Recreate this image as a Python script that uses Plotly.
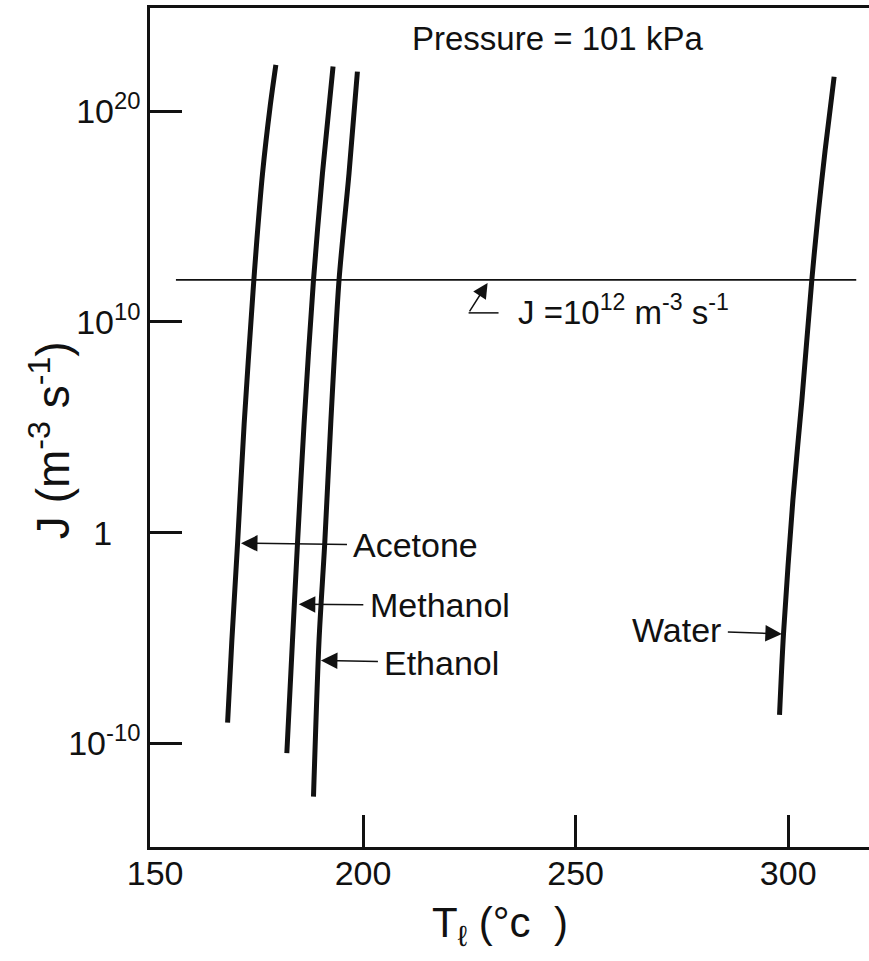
import plotly.graph_objects as go

# ---- data ----
acetone_T = [168.15, 169.16, 170.50, 172.05, 174.16, 175.03, 176.37, 178.15, 179.50]
acetone_logJ = [-9.02, -5.09, -0.50, 5.19, 11.52, 13.89, 17.06, 20.22, 22.20]

methanol_T = [182.08, 183.42, 184.59, 186.14, 188.35, 190.46, 192.95]
methanol_logJ = [-10.47, -5.09, -0.50, 5.19, 11.99, 17.06, 22.12]

ethanol_T = [188.35, 189.66, 191.00, 192.41, 194.36, 196.71, 198.68]
ethanol_logJ = [-12.53, -5.09, -0.50, 5.19, 11.99, 17.06, 21.88]

water_T = [297.96, 298.90, 301.10, 303.22, 305.57, 306.98, 308.69, 310.80]
water_logJ = [-8.65, -4.77, 1.55, 6.30, 12.04, 15.00, 18.16, 21.64]

ref_T = [156.0, 316.0]
ref_J = [1e12, 1e12]

x_tickvals = [150, 200, 250, 300]
x_ticktext = ["\u00a0150", "200", "250", "300"]
y_tickvals = [1e-10, 1, 1e10, 1e20]
y_ticktext = ["10<sup>-10</sup>", "1\u00a0\u00a0\u00a0", "10<sup>10</sup>", "10<sup>20</sup>"]

label_names = ["Acetone", "Methanol", "Ethanol", "Water"]
label_tip_T = [171.3, 184.9, 190.1, 298.5]
label_tip_logJ = [-0.50, -3.40, -6.07, -4.81]
label_ax = [175, 141, 121, -105]
label_ay = [2, 1, 2, -4]

FONT = "Liberation Sans, Arial, sans-serif"
BLACK = "#111111"

fig = go.Figure()
for T, lj in [(acetone_T, acetone_logJ), (methanol_T, methanol_logJ),
              (ethanol_T, ethanol_logJ), (water_T, water_logJ)]:
    fig.add_trace(go.Scatter(
        x=T, y=[10 ** v for v in lj], mode="lines",
        line=dict(color=BLACK, width=5, shape="spline", smoothing=0.8),
        hoverinfo="skip"))

fig.add_trace(go.Scatter(x=ref_T, y=ref_J, mode="lines",
                         line=dict(color=BLACK, width=1.8), hoverinfo="skip"))

annotations = []
for name, tx, ty, ax, ay in zip(label_names, label_tip_T, label_tip_logJ, label_ax, label_ay):
    annotations.append(dict(
        x=tx, y=ty, xref="x", yref="y", text=name, showarrow=True,
        ax=ax, ay=ay, arrowhead=2, arrowsize=2.2, arrowwidth=1.5,
        arrowcolor=BLACK, borderpad=6,
        font=dict(family=FONT, size=34, color=BLACK)))

# J = 10^12 label with L-shaped pointer
annotations.append(dict(
    x=235.9, y=10.55, xref="x", yref="y", xanchor="left", yanchor="middle",
    text="J =10<sup>12</sup> m<sup>-3</sup> s<sup>-1</sup>", showarrow=False,
    font=dict(family=FONT, size=33, color=BLACK)))
annotations.append(dict(
    x=229.3, y=11.85, xref="x", yref="y", text="", showarrow=True,
    ax=-19, ay=30, arrowhead=2, arrowsize=2.0, arrowwidth=1.5, arrowcolor=BLACK))

# Pressure label
annotations.append(dict(
    x=245.7, y=23.43, xref="x", yref="y", xanchor="center", yanchor="middle",
    text="Pressure = 101 kPa", showarrow=False,
    font=dict(family=FONT, size=33, color=BLACK)))

# Axis titles
annotations.append(dict(
    x=-0.139, y=0.485, xref="paper", yref="paper", xanchor="center", yanchor="middle",
    text="J (m<sup>-3</sup> s<sup>-1</sup>)", textangle=-90, showarrow=False,
    font=dict(family=FONT, size=46, color=BLACK)))
annotations.append(dict(
    x=0.487, y=-0.093, xref="paper", yref="paper", xanchor="center", yanchor="middle",
    text="T<sub>ℓ</sub>\u00a0(°c\u00a0\u00a0)", showarrow=False,
    font=dict(family=FONT, size=42, color=BLACK)))

shapes = [dict(type="line", xref="x", yref="y", x0=224.83, x1=231.87,
               y0=10 ** 10.43, y1=10 ** 10.43,
               line=dict(color=BLACK, width=1.5))]

fig.update_layout(
    width=869, height=961,
    margin=dict(l=150, r=0, t=8, b=114),
    plot_bgcolor="white", paper_bgcolor="white",
    showlegend=False,
    font=dict(family=FONT, size=34, color=BLACK),
    annotations=annotations, shapes=shapes,
    xaxis=dict(range=[149.9, 319.0], showline=True, linecolor=BLACK, linewidth=2.5,
               mirror=True, ticks="inside", ticklen=32, tickwidth=2.5, tickcolor=BLACK,
               showgrid=False, zeroline=False, tickvals=x_tickvals, ticktext=x_ticktext,
               ticklabelstandoff=-6, tickfont=dict(family=FONT, size=34, color=BLACK)),
    yaxis=dict(type="log", range=[-14.92, 24.90], showline=True, linecolor=BLACK,
               linewidth=2.5, ticks="inside", ticklen=32, tickwidth=2.5, tickcolor=BLACK,
               showgrid=False, zeroline=False, tickvals=y_tickvals, ticktext=y_ticktext,
               ticklabelstandoff=0, tickfont=dict(family=FONT, size=34, color=BLACK)),
)

fig.write_html(
    "out.html",
    config={"displayModeBar": False},
    post_script="document.body.style.margin='0';document.body.style.overflow='hidden';",
)
